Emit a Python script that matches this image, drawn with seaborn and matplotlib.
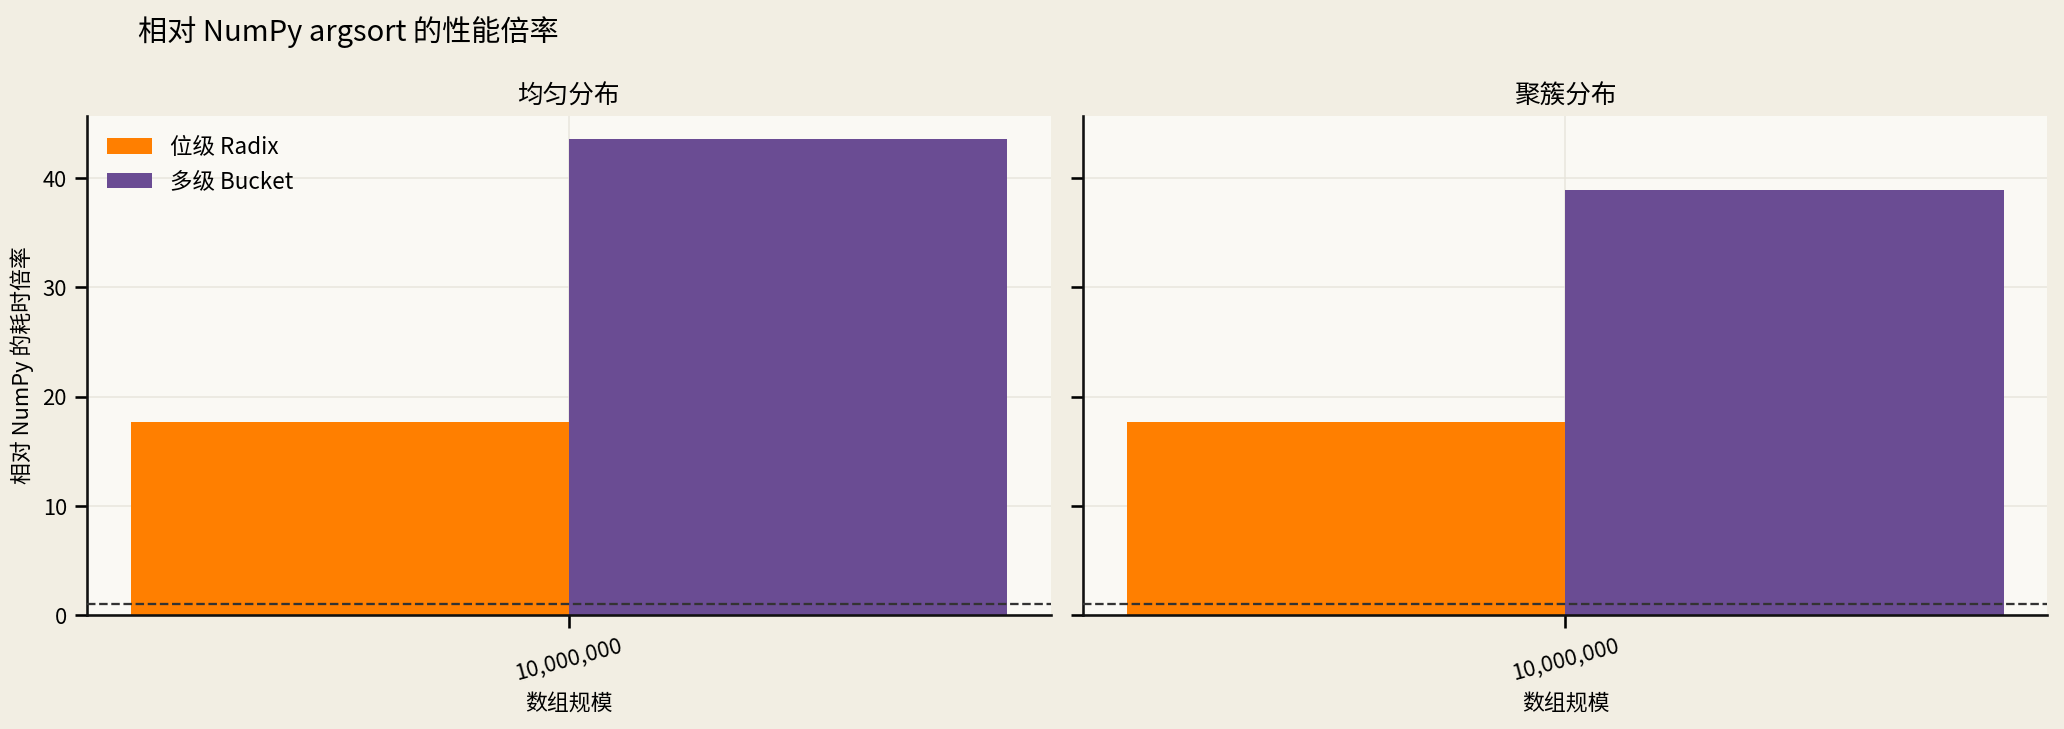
import pandas as pd
import numpy as np
import matplotlib.pyplot as plt
import seaborn as sns

# 数据
panels = ['均匀分布', '聚簇分布']
sizes = [10_000_000]
methods = ['位级 Radix', '多级 Bucket']
uniform_ratio = [17.7, 43.6]
clustered_ratio = [17.7, 38.9]
baseline = 1.0

colors = ['#FF7F00', '#6A4C93']

sns.set_theme(style='ticks')
plt.rcParams['font.family'] = ['Noto Sans CJK SC', 'DejaVu Sans']
plt.rcParams['axes.unicode_minus'] = False
plt.rcParams['text.color'] = 'black'
plt.rcParams['axes.labelcolor'] = 'black'
plt.rcParams['xtick.color'] = 'black'
plt.rcParams['ytick.color'] = 'black'
plt.rcParams['axes.edgecolor'] = '#111111'

fig, axes = plt.subplots(1, 2, figsize=(13.76, 4.86), dpi=150, sharey=True)
fig.patch.set_facecolor('#F2EEE3')

for ax, title, vals in zip(axes, panels, [uniform_ratio, clustered_ratio]):
    df = pd.DataFrame({
        'size': [f'{s:,}' for s in sizes for _ in methods],
        'method': methods * len(sizes),
        'ratio': vals,
    })
    sns.barplot(data=df, x='size', y='ratio', hue='method', palette=colors,
                width=0.8, gap=0, saturation=1, linewidth=0, ax=ax, zorder=2)
    ax.set_facecolor('#FAF9F4')
    ax.axhline(baseline, color='#333333', linestyle='--', linewidth=1.1, zorder=3)
    ax.set_xlim(-0.44, 0.44)
    ax.set_ylim(0, 45.7)
    ax.grid(True, color='#E6E3DA', linewidth=0.8, alpha=0.8, zorder=0)
    ax.set_axisbelow(True)
    ax.set_title(title, fontsize=12.3)
    ax.set_xlabel('数组规模', fontsize=10.5)
    ax.tick_params(axis='x', labelrotation=15, labelsize=10.5)
    ax.tick_params(axis='y', labelsize=10.5)
    for sp in ['top', 'right']:
        ax.spines[sp].set_visible(False)
    ax.get_legend().remove()

axes[0].set_ylabel('相对 NumPy 的耗时倍率', fontsize=10.5)
axes[1].set_ylabel('')
axes[0].legend(loc='upper left', frameon=False, fontsize=10.8)

fig.subplots_adjust(left=0.042, right=0.992, top=0.841, bottom=0.156, wspace=0.034)
fig.suptitle('相对 NumPy argsort 的性能倍率', x=0.067, y=0.978, ha='left', fontsize=14)

fig.savefig('out.png', dpi=150, facecolor=fig.get_facecolor())
